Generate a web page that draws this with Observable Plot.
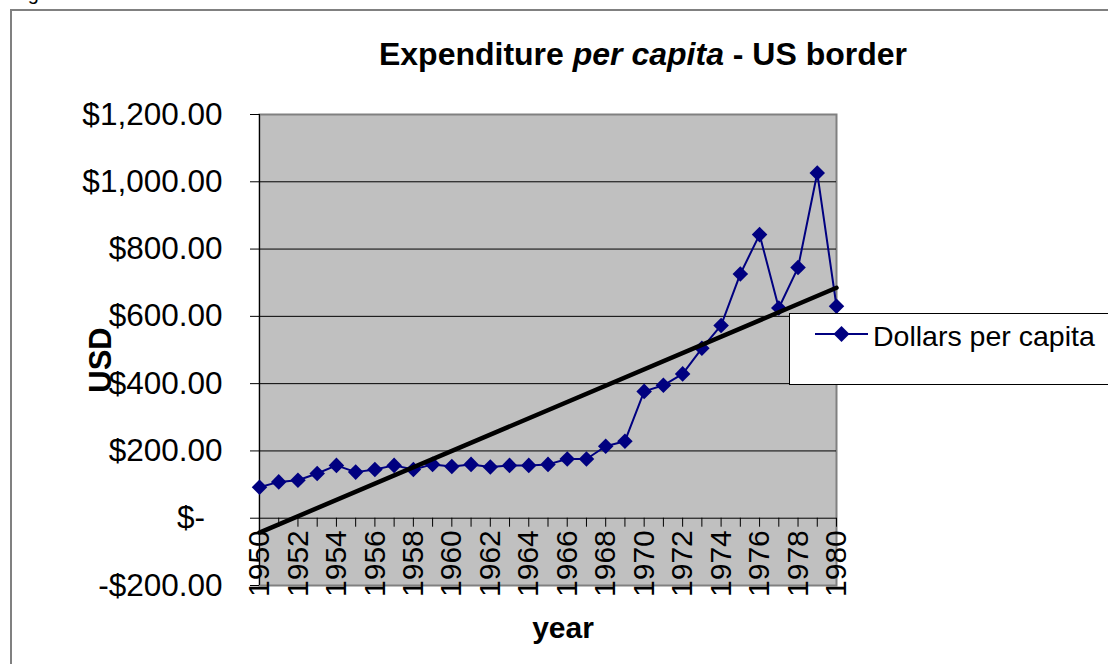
<!DOCTYPE html>
<html>
<head>
<meta charset="utf-8">
<script src="https://cdn.jsdelivr.net/npm/d3@7"></script>
<script src="https://cdn.jsdelivr.net/npm/@observablehq/plot@0.6"></script>
<style>
  body { margin: 0; background: #fff; font-family: "Liberation Sans", Arial, sans-serif; }
  #wrap { position: relative; width: 1108px; height: 664px; overflow: hidden; background: #fff; }
  #wrap svg { position: absolute; left: 0; top: 0; }
  .abs { position: absolute; white-space: nowrap; color: #000; line-height: 1; }
  #fig { left: 11px; top: -17px; font-size: 20px; line-height: 20px; }
  #border { left: 10px; top: 9px; width: 1300px; height: 900px; border-left: 2px solid #808080; border-top: 2px solid #808080; }
  #title { left: 643px; top: 38px; transform: translateX(-50%); font-size: 32px; font-weight: bold; }
  #ylab { left: 100px; top: 360px; transform: translate(-50%, -50%) rotate(-90deg); font-size: 31px; font-weight: bold; }
  #xlab { left: 563px; top: 628px; transform: translate(-50%, -50%); font-size: 30px; font-weight: bold; }
  #legend { left: 789px; top: 313px; width: 340px; height: 70px; border: 1.5px solid #000; background: #fff; }
  #legend svg { position: absolute; left: 24px; top: 10px; }
  #legend .lt { position: absolute; left: 83px; top: 5px; font-size: 28.5px; line-height: 34px; }
</style>
</head>
<body>
<div id="wrap">
  <div id="fig" class="abs">Figure 3</div>
</div>
<script>
// ---- data ----
const years = [1950,1951,1952,1953,1954,1955,1956,1957,1958,1959,1960,1961,1962,1963,1964,1965,
               1966,1967,1968,1969,1970,1971,1972,1973,1974,1975,1976,1977,1978,1979,1980];
const dollarsPerCapita = [92,108,113,133,157,137,145,157,145,160,154,160,152,157,157,160,
                          176,176,214,229,377,395,429,505,573,726,843,625,745,1026,630];
const yTicks = [-200,0,200,400,600,800,1000,1200];
const gridValues = [200,400,600,800,1000];
const yearLabels = [1950,1952,1954,1956,1958,1960,1962,1964,1966,1968,1970,1972,1974,1976,1978,1980];
const seriesName = "Dollars per capita";
const titleMain = "Expenditure ";
const titleItalic = "per capita";
const titleRest = " - US border";
const yLabel = "USD";
const xLabel = "year";

const data = years.map((y, i) => ({year: y, value: dollarsPerCapita[i]}));
const navy = "#000080";
const fmt = v => v === 0 ? "$-  " : (v < 0 ? "-" : "") + "$" + d3.format(",.2f")(Math.abs(v));

const chart = Plot.plot({
  width: 1108,
  height: 664,
  marginLeft: 259,
  marginRight: 272,
  marginTop: 114,
  marginBottom: 79,
  style: {background: "transparent", fontFamily: "'Liberation Sans', Arial, sans-serif", color: "black"},
  x: {domain: [1950, 1980], axis: null},
  y: {domain: [-200, 1200], axis: null},
  marks: [
    Plot.frame({fill: "#c0c0c0", stroke: "#808080", strokeWidth: 2}),
    Plot.ruleY(gridValues, {stroke: "black", strokeWidth: 1}),
    Plot.ruleY([0], {stroke: "black", strokeWidth: 1}),
    Plot.ruleX(years, {x: d => d, y1: 0, y2: 0, insetBottom: -9, stroke: "black", strokeWidth: 1}),
    Plot.text(yearLabels, {x: d => d, y: 0, text: d => String(d), rotate: -90, textAnchor: "end",
                           dy: 12, fontSize: 30, fill: "black"}),
    Plot.ruleX([1950], {stroke: "black", strokeWidth: 1}),
    Plot.axisY(yTicks, {tickFormat: fmt, tickSize: 9, tickPadding: 28, fontSize: 31.5, label: null, stroke: "black"}),
    Plot.line(data, {x: "year", y: "value", stroke: navy, strokeWidth: 2}),
    Plot.dot(data, {x: "year", y: "value", symbol: "diamond2", r: 7, fill: navy, stroke: "none"}),
    Plot.linearRegressionY(data, {x: "year", y: "value", stroke: "black", strokeWidth: 4.5, ci: 0})
  ]
});

const wrap = document.getElementById("wrap");
wrap.appendChild(chart);

function addDiv(id, html) {
  const d = document.createElement("div");
  d.id = id; d.className = "abs"; d.innerHTML = html;
  wrap.appendChild(d);
  return d;
}
addDiv("border", "");
addDiv("title", titleMain + "<i>" + titleItalic + "</i>" + titleRest);
addDiv("ylab", yLabel);
addDiv("xlab", xLabel);
const leg = addDiv("legend", "");
leg.innerHTML =
  '<svg width="56" height="24" viewBox="0 0 56 24">' +
  '<line x1="1" y1="10" x2="54" y2="10" stroke="' + navy + '" stroke-width="2"/>' +
  '<path d="M27.5,2 L35.5,10 L27.5,18 L19.5,10 Z" fill="' + navy + '"/></svg>' +
  '<div class="lt">' + seriesName + '</div>';
</script>
</body>
</html>
